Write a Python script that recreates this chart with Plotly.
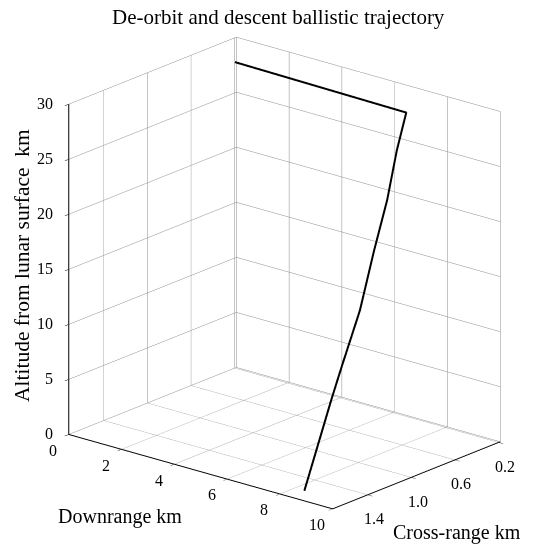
import plotly.graph_objects as go

# Trajectory
downrange_km = [0.0, 6.50, 6.68, 6.85, 7.10, 7.35, 7.68, 7.86, 8.37]
crossrange_km = [0.20, 0.20, 0.33, 0.46, 0.64, 0.83, 1.08, 1.21, 1.585]
altitude_km = [27.8, 27.6, 24.8, 20.9, 17.2, 12.7, 8.7, 6.6, 0.0]

x_ticks = [0, 2, 4, 6, 8, 10]
y_ticks = [0.2, 0.6, 1.0, 1.4]
y_ticklabels = ["0.2", "0.6", "1.0", "1.4"]
z_ticks = [0, 5, 10, 15, 20, 25, 30]

X_RANGE = [0, 10]
Y_RANGE = [1.72, 0.185]   # reversed: cross-range grows toward the viewer
Z_RANGE = [0, 30]

FONT = "Liberation Serif"
TICK_FONT = dict(family=FONT, size=16, color="black")

fig = go.Figure()
fig.add_trace(go.Scatter3d(
    x=downrange_km, y=crossrange_km, z=altitude_km,
    mode="lines", line=dict(color="black", width=4),
    showlegend=False, hoverinfo="skip"))

axis_common = dict(
    showbackground=False, showgrid=True, gridcolor="#8c8c8c", gridwidth=1,
    zeroline=False, showline=True, linecolor="black", linewidth=2,
    ticks="outside", tickcolor="black", ticklen=6, showticklabels=False,
    showspikes=False, title=dict(text=""), mirror=False)

# upright tick labels placed through the scene's own axes
y_front = Y_RANGE[0] - 0.001
x_left = X_RANGE[0] + 0.001
scene_ann = []
for v in x_ticks:
    scene_ann.append(dict(x=v, y=y_front, z=Z_RANGE[0], text=str(v), showarrow=False,
                          xshift=-16, yshift=-16, font=TICK_FONT))
for v, t in zip(y_ticks, y_ticklabels):
    scene_ann.append(dict(x=X_RANGE[1], y=v, z=Z_RANGE[0], text=t, showarrow=False,
                          xshift=6, yshift=-24, font=TICK_FONT))
for v in z_ticks:
    scene_ann.append(dict(x=x_left, y=y_front, z=v, text=str(v), showarrow=False,
                          xanchor="right", xshift=-14, yshift=1, font=TICK_FONT))

fig.update_layout(
    width=534, height=545,
    margin=dict(l=0, r=0, t=0, b=0),
    paper_bgcolor="white",
    font=dict(family=FONT, color="black"),
    scene=dict(
        domain=dict(x=[0.07, 0.997], y=[0.013, 0.985]),
        xaxis=dict(range=X_RANGE, tickvals=x_ticks, **axis_common),
        yaxis=dict(range=Y_RANGE, tickvals=y_ticks, ticktext=y_ticklabels, **axis_common),
        zaxis=dict(range=Z_RANGE, tickvals=z_ticks, **axis_common),
        aspectmode="manual",
        aspectratio=dict(x=1.30, y=0.984, z=1.323),
        camera=dict(
            eye=dict(x=0.606 * 1.58, y=-0.722 * 1.58, z=0.336 * 1.58),
            center=dict(x=0, y=0, z=0),
            up=dict(x=0, y=0, z=1),
            projection=dict(type="orthographic")),
        annotations=scene_ann,
    ),
)

def px_ann(text, px, py, size, angle=0):
    fig.add_annotation(text=text, x=px / 534, y=1 - py / 545, xref="paper", yref="paper",
                       xanchor="center", yanchor="middle", showarrow=False, textangle=angle,
                       font=dict(family=FONT, size=size, color="black"))

px_ann("De-orbit and descent ballistic trajectory", 278, 17, 21)
px_ann("Downrange km", 120, 516, 20)
px_ann("Cross-range km", 457, 532, 20)
px_ann("Altitude from lunar surface  km", 22, 266, 21.5, angle=-90)

fig.write_html("out.html", config={"displayModeBar": False},
               post_script="document.body.style.margin='0px';")
